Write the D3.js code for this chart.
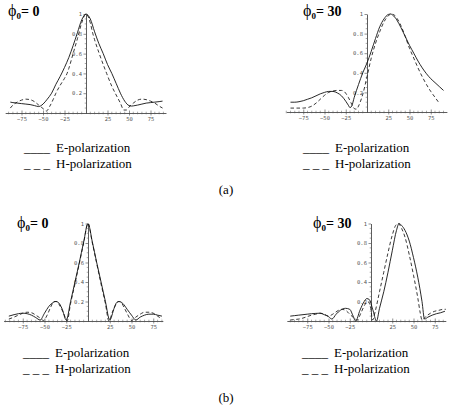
<!DOCTYPE html>
<html><head><meta charset="utf-8">
<script src="https://cdn.jsdelivr.net/npm/d3@7"></script>
<style>body{margin:0;background:#fff}svg{display:block}</style></head>
<body><svg id="c" width="452" height="406"></svg>
<script>
// ---------- data (angle in degrees, normalised pattern value) ----------
const xTickLabels = [-75, -50, -25, 25, 50, 75];
const yTickLabels = [0.2, 0.4, 0.6, 0.8, 1];
const legendLabels = ["E-polarization", "H-polarization"];
const panelTitles = ["0", "30", "0", "30"];
const figureLabels = ["(a)", "(b)"];

// (a) phi0 = 0
const a0E_ang = [-88,-85,-80,-75,-70,-65,-60,-55,-50,-45,-40,-35,-30,-25,-20,-15,-10,-5,0,5,10,15,20,25,30,35,40,45,50,53,55,60,65,70,75,80,85,89];
const a0E_val = [0.11,0.105,0.10,0.095,0.09,0.085,0.075,0.065,0.09,0.14,0.2,0.29,0.37,0.46,0.56,0.68,0.81,0.94,1.0,0.95,0.82,0.7,0.6,0.49,0.4,0.3,0.2,0.12,0.075,0.07,0.072,0.08,0.09,0.1,0.105,0.11,0.115,0.12];
const a0H_ang = [-88,-85,-80,-75,-70,-65,-60,-55,-50,-46,-42,-38,-35,-30,-25,-22,-20,-15,-10,-5,0,5,8,10,15,20,24,30,34,40,44,47,50,55,60,65,70,75,80,85,89];
const a0H_val = [0.05,0.08,0.11,0.13,0.14,0.135,0.115,0.08,0.045,0.02,0.07,0.14,0.2,0.28,0.35,0.4,0.45,0.6,0.75,0.91,1.0,0.91,0.8,0.74,0.61,0.49,0.4,0.27,0.2,0.1,0.03,0.03,0.06,0.1,0.13,0.14,0.135,0.12,0.1,0.07,0.05];

// (a) phi0 = 30
const a30E_ang = [-90,-85,-80,-75,-70,-65,-60,-55,-50,-45,-40,-35,-30,-25,-22,-20,-18,-15,-10,-5,0,5,10,15,20,25,28,30,35,40,45,50,55,60,65,70,75,80,85,90];
const a30E_val = [0.1,0.1,0.105,0.115,0.13,0.145,0.165,0.185,0.2,0.21,0.21,0.195,0.165,0.11,0.07,0.045,0.06,0.15,0.28,0.4,0.5,0.62,0.75,0.87,0.95,0.995,1.0,0.99,0.94,0.86,0.77,0.68,0.6,0.52,0.45,0.39,0.34,0.3,0.26,0.22];
const a30H_ang = [-90,-85,-80,-75,-70,-65,-60,-55,-50,-45,-40,-35,-30,-27,-22,-18,-14,-12,-10,-5,0,5,10,15,20,25,28,32,35,40,45,50,55,60,65,70,75,80,85];
const a30H_val = [0.04,0.04,0.04,0.04,0.045,0.06,0.09,0.13,0.17,0.2,0.215,0.22,0.22,0.21,0.15,0.08,0.03,0.03,0.06,0.18,0.36,0.55,0.7,0.82,0.92,0.98,1.0,0.99,0.96,0.88,0.77,0.65,0.55,0.45,0.36,0.28,0.21,0.15,0.09];

// (b) phi0 = 0
const b0E_ang = [-91,-85,-80,-75,-70,-65,-60,-55,-50,-45,-40,-37,-34,-30,-25,-20,-15,-10,-5,0,5,10,15,20,25,30,33,36,40,45,50,55,60,65,70,75,80,85];
const b0E_val = [0.05,0.065,0.075,0.08,0.075,0.06,0.035,0.01,0.08,0.15,0.19,0.2,0.19,0.13,0.01,0.2,0.4,0.6,0.81,1.0,0.81,0.6,0.4,0.2,0.01,0.13,0.19,0.2,0.18,0.12,0.06,0.01,0.04,0.06,0.07,0.07,0.06,0.05];
const b0H_ang = [-91,-85,-80,-75,-70,-65,-60,-55,-51,-47,-43,-39,-36,-32,-28,-24,-20,-15,-10,-5,0,5,10,15,20,24,28,32,35,38,42,46,50,55,60,65,70,75,80,85];
const b0H_val = [0.02,0.04,0.06,0.08,0.09,0.085,0.06,0.03,0.005,0.06,0.14,0.2,0.2,0.15,0.08,0.0,0.18,0.38,0.59,0.8,1.0,0.8,0.59,0.38,0.18,0.0,0.09,0.17,0.2,0.19,0.13,0.06,0.005,0.04,0.07,0.09,0.09,0.08,0.05,0.02];

// (b) phi0 = 30
const b30E_ang = [-95,-90,-85,-80,-75,-70,-65,-60,-55,-50,-46,-41,-36,-30,-25,-21,-18,-13,-8,-5,-2,2,6.5,10,15,20,25,30,33,36,40,45,50,55,60,63,67,72,77,82,87];
const b30E_val = [0.05,0.055,0.06,0.065,0.07,0.075,0.078,0.08,0.065,0.045,0.02,0.07,0.11,0.13,0.12,0.05,0.0,0.11,0.2,0.23,0.22,0.12,0.0,0.13,0.3,0.5,0.72,0.93,1.0,0.98,0.93,0.82,0.65,0.45,0.2,0.02,0.04,0.06,0.075,0.085,0.1];
const b30H_ang = [-95,-90,-85,-80,-75,-70,-65,-60,-55,-50,-45,-40,-35,-30,-25,-20,-16,-12,-7,-4,-1,2,5,10,15,20,25,29,32,36,40,45,50,55,58,60,65,70,75,80,85,88];
const b30H_val = [0.01,0.015,0.02,0.03,0.045,0.06,0.07,0.08,0.07,0.05,0.07,0.1,0.12,0.11,0.07,0.03,0.01,0.08,0.17,0.2,0.16,0.01,0.1,0.3,0.5,0.7,0.88,0.98,1.0,0.95,0.86,0.68,0.47,0.24,0.08,0.01,0.05,0.08,0.1,0.11,0.12,0.12];

// ---------- layout ----------
const panels = [
  {title: panelTitles[0], E:[a0E_ang,a0E_val], H:[a0H_ang,a0H_val], x0:86,  k:0.86, y0:113, h:99,   from:-94, to:93, tx:8,   ty:16,  lx:24,  ly:152},
  {title: panelTitles[1], E:[a30E_ang,a30E_val], H:[a30H_ang,a30H_val], x0:367, k:0.85, y0:112, h:98, from:-95, to:94, tx:303, ty:16,  lx:303, ly:152},
  {title: panelTitles[2], E:[b0E_ang,b0E_val], H:[b0H_ang,b0H_val], x0:88,  k:0.87, y0:321, h:97.5, from:-97, to:86, tx:17,  ty:228, lx:23,  ly:357},
  {title: panelTitles[3], E:[b30E_ang,b30E_val], H:[b30H_ang,b30H_val], x0:371, k:0.85, y0:321, h:97.5, from:-99, to:88, tx:313, ty:228, lx:302, ly:357}
];

const svg = d3.select("#c");
const serif = "Liberation Serif, Times New Roman, Times, DejaVu Serif, serif";
const mono = "DejaVu Sans Mono, Liberation Mono, monospace";

panels.forEach(p => {
  const g = svg.append("g");
  const x = d3.scaleLinear().domain([p.from, p.to]).range([p.x0 + p.from * p.k, p.x0 + p.to * p.k]);
  const y = d3.scaleLinear().domain([0, 1]).range([p.y0, p.y0 - p.h]);

  // x axis with labels
  const xa = g.append("g").attr("transform", `translate(0,${p.y0})`)
    .call(d3.axisBottom(x).tickValues(xTickLabels).tickSize(2.5).tickSizeOuter(0).tickPadding(1.5).tickFormat(d3.format("d")));
  xa.select(".domain").attr("stroke", "#333").attr("stroke-width", 0.8);
  xa.selectAll(".tick line").attr("stroke", "#444").attr("stroke-width", 0.6).attr("y1", -2.5);
  xa.selectAll("text").style("font-family", mono).style("font-size", "5.5px").attr("fill", "#555");
  // x minor ticks every 5 degrees
  const minors = d3.range(Math.ceil(p.from / 5) * 5, p.to + 0.01, 5).filter(v => v % 25 !== 0);
  g.selectAll(".mx").data(minors).join("line")
    .attr("x1", d => x(d)).attr("x2", d => x(d))
    .attr("y1", p.y0 - 1.3).attr("y2", p.y0 + 1.3)
    .attr("stroke", "#555").attr("stroke-width", 0.5);

  // y axis
  const ya = g.append("g").attr("transform", `translate(${p.x0},0)`)
    .call(d3.axisLeft(y).tickValues(yTickLabels).tickSize(2.5).tickSizeOuter(0).tickPadding(1.5)
      .tickFormat(d => d === 1 ? "1" : d3.format(".1f")(d)));
  ya.select(".domain").attr("stroke", "#333").attr("stroke-width", 0.8);
  ya.selectAll(".tick line").attr("stroke", "#444").attr("stroke-width", 0.6);
  ya.selectAll("text").style("font-family", mono).style("font-size", "5.5px").attr("fill", "#555");
  const yMinors = d3.range(0.05, 1.0, 0.05).filter(v => Math.abs(v * 5 - Math.round(v * 5)) > 1e-6);
  g.selectAll(".my").data(yMinors).join("line")
    .attr("x1", p.x0 - 1.3).attr("x2", p.x0)
    .attr("y1", d => y(d)).attr("y2", d => y(d))
    .attr("stroke", "#555").attr("stroke-width", 0.5);

  // curves
  const line = d3.line().x(d => x(d[0])).y(d => y(d[1])).curve(d3.curveMonotoneX);
  const eData = d3.zip(p.E[0], p.E[1]);
  const hData = d3.zip(p.H[0], p.H[1]);
  g.append("path").datum(hData).attr("d", line).attr("fill", "none")
    .attr("stroke", "#222").attr("stroke-width", 0.9).attr("stroke-dasharray", "3.5,2.5");
  g.append("path").datum(eData).attr("d", line).attr("fill", "none")
    .attr("stroke", "#111").attr("stroke-width", 0.9);

  // title  ϕ0= n
  const t = g.append("text").attr("x", p.tx).attr("y", p.ty)
    .style("font-family", serif).style("font-weight", "bold").style("font-size", "14px").attr("fill", "#000");
  t.append("tspan").style("font-size", "16px").style("font-weight", "normal").text("\u03D5");
  t.append("tspan").style("font-size", "9px").attr("dy", 3).text("0");
  t.append("tspan").attr("dy", -3).text("= " + p.title);

  // legend
  const lg = g.append("g").style("font-family", serif).style("font-size", "13px").attr("fill", "#000");
  lg.append("text").attr("x", p.lx).attr("y", p.ly).text("____");
  lg.append("text").attr("x", p.lx).attr("y", p.ly + 15.5).style("white-space", "pre").text("_ _ _");
  lg.append("text").attr("x", p.lx + 32).attr("y", p.ly).text(legendLabels[0]);
  lg.append("text").attr("x", p.lx + 32).attr("y", p.ly + 15.5).text(legendLabels[1]);
});

// figure labels
svg.selectAll(".fl").data(figureLabels).join("text")
  .attr("x", 226).attr("y", (d, i) => i === 0 ? 194 : 402)
  .attr("text-anchor", "middle").style("font-family", serif).style("font-size", "13px")
  .text(d => d);
</script></body></html>
